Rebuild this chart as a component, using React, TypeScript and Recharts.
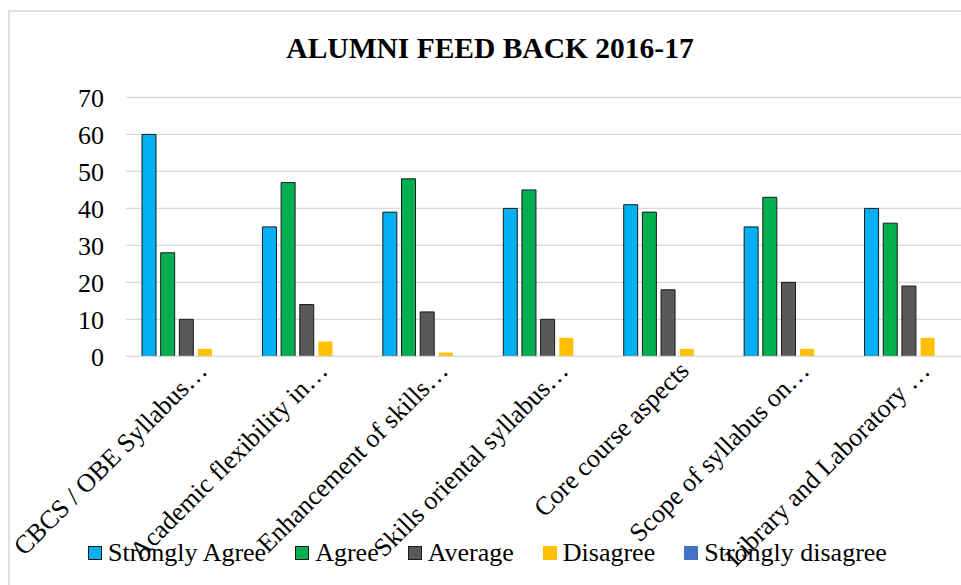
import React from 'react';
import { BarChart, Bar, XAxis, YAxis, CartesianGrid, Legend } from 'recharts';

const categories = [
  'CBCS / OBE Syllabus…',
  'Academic flexibility in…',
  'Enhancement of skills…',
  'Skills oriental syllabus…',
  'Core course aspects',
  'Scope of syllabus on…',
  'Library and Laboratory …',
];
const stronglyAgree = [60, 35, 39, 40, 41, 35, 40];
const agree = [28, 47, 48, 45, 39, 43, 36];
const average = [10, 14, 12, 10, 18, 20, 19];
const disagree = [2, 4, 1, 5, 2, 2, 5];
const stronglyDisagree = [0, 0, 0, 0, 0, 0, 0];
const yTicks = [0, 10, 20, 30, 40, 50, 60, 70];
const title = 'ALUMNI FEED BACK 2016-17';

const series = [
  { key: 'sa', name: 'Strongly Agree', color: '#00B0F0', outline: true },
  { key: 'a', name: 'Agree', color: '#00B050', outline: true },
  { key: 'avg', name: 'Average', color: '#595959', outline: true },
  { key: 'd', name: 'Disagree', color: '#FFC000', outline: false },
  { key: 'sd', name: 'Strongly disagree', color: '#4472C4', outline: false },
];

const data = categories.map((name, i) => ({
  name,
  sa: stronglyAgree[i],
  a: agree[i],
  avg: average[i],
  d: disagree[i],
  sd: stronglyDisagree[i],
}));

const FONT = '"Liberation Serif", "Times New Roman", serif';

const XTick = (props: any) => {
  const { x, y, payload } = props;
  const tx = x + 22.5;
  const ty = y + 16;
  return (
    <text
      x={tx}
      y={ty}
      transform={`rotate(-45, ${tx}, ${ty})`}
      textAnchor="end"
      fontFamily={FONT}
      fontSize={26}
      fill="#000"
    >
      {payload.value}
    </text>
  );
};

const renderLegend = () => (
  <div
    style={{
      display: 'flex',
      alignItems: 'center',
      fontFamily: FONT,
      fontSize: 26,
      lineHeight: '30px',
      color: '#000',
      whiteSpace: 'nowrap',
    }}
  >
    {series.map((s) => (
      <div key={s.key} style={{ display: 'flex', alignItems: 'center', marginRight: 29 }}>
        <span
          style={{
            display: 'inline-block',
            width: 14,
            height: 14,
            background: s.color,
            border: s.outline ? '1px solid #1a1a1a' : 'none',
            boxSizing: 'border-box',
            marginRight: 6,
          }}
        />
        <span>{s.name}</span>
      </div>
    ))}
  </div>
);

export default function App() {
  return (
    <div
      style={{
        position: 'fixed',
        left: 0,
        top: 0,
        width: 961,
        height: 585,
        overflow: 'hidden',
        background: '#fff',
      }}
    >
      <div
        style={{
          position: 'absolute',
          left: 8,
          top: 10,
          width: 1000,
          height: 640,
          border: '2px solid #e0e0e0',
        }}
      >
        <BarChart
          width={980}
          height={600}
          data={data}
          margin={{ top: 85.5, right: 21, left: 0, bottom: 225.7 }}
          barSize={14}
          barGap={4.67}
        >
          <CartesianGrid vertical={false} stroke="#d9d9d9" strokeWidth={1.3} />
          <XAxis
            dataKey="name"
            height={30}
            tickSize={0}
            tickMargin={0}
            tickLine={false}
            axisLine={{ stroke: '#d9d9d9', strokeWidth: 1.3 }}
            interval={0}
            tick={<XTick />}
          />
          <YAxis
            width={116}
            domain={[0, 70]}
            ticks={yTicks}
            tickSize={0}
            tickMargin={22}
            tickLine={false}
            axisLine={false}
            tick={{ fontFamily: FONT, fontSize: 26, fill: '#000' }}
          />
          <Legend
            layout="horizontal"
            verticalAlign="middle"
            content={renderLegend}
            wrapperStyle={{ top: 526, left: 78, width: 900, height: 30 }}
          />
          {series.map((s) => (
            <Bar
              key={s.key}
              dataKey={s.key}
              name={s.name}
              fill={s.color}
              stroke={s.outline ? '#1a1a1a' : 'none'}
              strokeWidth={s.outline ? 1 : 0}
              isAnimationActive={false}
            />
          ))}
        </BarChart>
      </div>
      <div
        style={{
          position: 'absolute',
          left: 0,
          top: 34.3,
          width: 980,
          textAlign: 'center',
          fontFamily: FONT,
          fontWeight: 'bold',
          fontSize: 29.5,
          lineHeight: 1,
          color: '#000',
          whiteSpace: 'nowrap',
        }}
      >
        {title}
      </div>
    </div>
  );
}
